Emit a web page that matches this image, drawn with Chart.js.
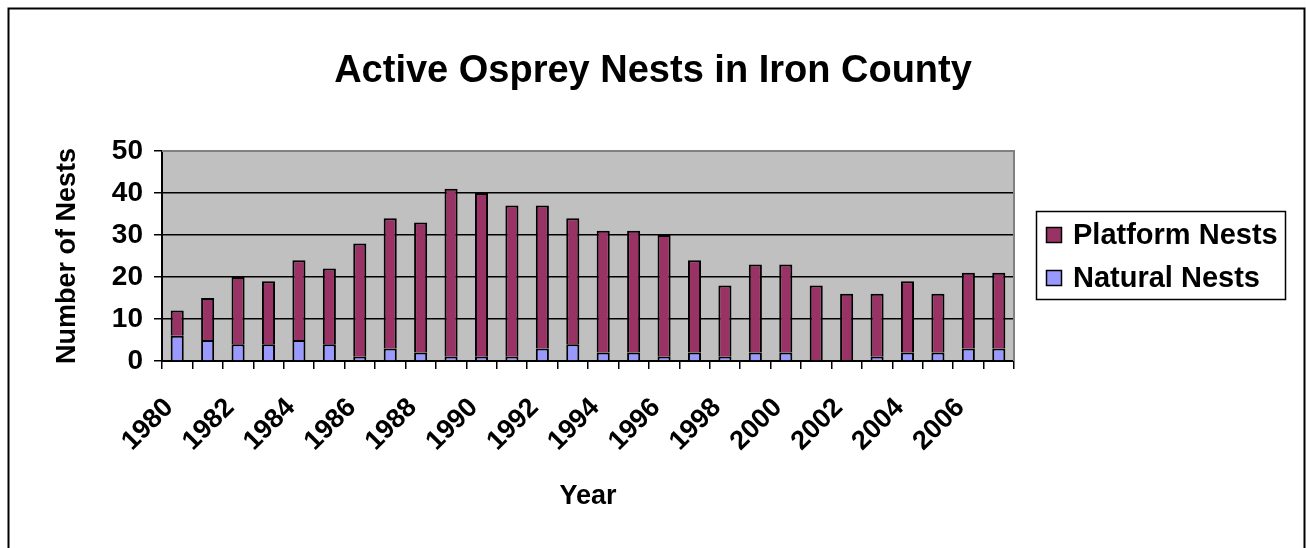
<!DOCTYPE html>
<html>
<head>
<meta charset="utf-8">
<title>Active Osprey Nests in Iron County</title>
<script src="https://cdn.jsdelivr.net/npm/chart.js@4.4.0/dist/chart.umd.min.js"></script>
<style>
  html, body { margin: 0; padding: 0; background: #fff; }
  #wrap { position: relative; width: 1306px; height: 548px; }
</style>
</head>
<body>
<div id="wrap"><canvas id="chart"></canvas></div>
<script>
// Data
const years = ['1980','1981','1982','1983','1984','1985','1986','1987','1988','1989',
               '1990','1991','1992','1993','1994','1995','1996','1997','1998','1999',
               '2000','2001','2002','2003','2004','2005','2006','2007'];
const naturalNests  = [6,5,4,4,5,4,1,3,2,1,1,1,3,4,2,2,1,2,1,2,2,0,0,1,2,2,3,3];
const platformNests = [6,10,16,15,19,18,27,31,31,40,39,36,34,30,29,29,29,22,17,21,21,18,16,15,17,14,18,18];
const xTickLabels = ['1980','1982','1984','1986','1988','1990','1992','1994','1996','1998','2000','2002','2004','2006'];
const yTicks = [0,10,20,30,40,50];

const FONT = '"Liberation Sans", Arial, Helvetica, sans-serif';
Chart.defaults.font.family = FONT;
Chart.defaults.color = '#000';

// grey plot area, its grey top/right edge and the outer frame
const plotFrame = {
  id: 'plotFrame',
  beforeDraw(chart) {
    const {ctx, chartArea: a} = chart;
    ctx.save();
    ctx.fillStyle = '#c0c0c0';
    ctx.fillRect(a.left, a.top, a.right - a.left, a.bottom - a.top);
    ctx.restore();
  },
  beforeDatasetsDraw(chart) {
    const {ctx, chartArea: a} = chart;
    ctx.save();
    ctx.strokeStyle = '#808080';
    ctx.lineWidth = 2;
    ctx.beginPath();
    ctx.moveTo(a.left, a.top);
    ctx.lineTo(a.right, a.top);
    ctx.lineTo(a.right, a.bottom);
    ctx.stroke();
    ctx.restore();
  },
  afterDraw(chart) {
    const ctx = chart.ctx;
    ctx.save();
    ctx.strokeStyle = '#000';
    ctx.lineWidth = 2;
    ctx.strokeRect(8.5, 8.5, chart.width - 10, chart.height + 10);
    ctx.restore();
  }
};

// boxed legend to the right of the plot, platform first
const boxLegend = {
  id: 'boxLegend',
  afterDraw(chart) {
    const {ctx, chartArea: a} = chart;
    const items = chart.data.datasets.slice().reverse();
    const left = a.right + 22, top = 211;
    ctx.save();
    ctx.strokeStyle = '#000';
    ctx.lineWidth = 1.5;
    ctx.strokeRect(left + 0.5, top + 0.5, 249, 88);
    ctx.font = 'bold 29px ' + FONT;
    ctx.textBaseline = 'middle';
    ctx.textAlign = 'left';
    items.forEach((ds, i) => {
      const y = top + 16 + i * 43;
      ctx.fillStyle = ds.backgroundColor;
      ctx.fillRect(left + 10, y, 16, 16);
      ctx.strokeRect(left + 10.5, y + 0.5, 15, 15);
      ctx.fillStyle = '#000';
      ctx.fillText(ds.label, left + 37, y + 9);
    });
    ctx.restore();
  }
};

new Chart(document.getElementById('chart'), {
  type: 'bar',
  data: {
    labels: years,
    datasets: [
      { label: 'Natural Nests', data: naturalNests, backgroundColor: '#9999ff',
        borderColor: '#000', borderWidth: 2 },
      { label: 'Platform Nests', data: platformNests, backgroundColor: '#993366',
        borderColor: '#000', borderWidth: 2 }
    ]
  },
  options: {
    responsive: true,
    maintainAspectRatio: false,
    animation: false,
    layout: { padding: 0 },
    datasets: { bar: { categoryPercentage: 1, barPercentage: 0.43 } },
    plugins: {
      legend: { display: false },
      tooltip: { enabled: false },
      title: {
        display: true,
        text: 'Active Osprey Nests in Iron County',
        color: '#000',
        font: { size: 38, weight: 'bold' },
        padding: { top: 49, bottom: 56.4 }
      }
    },
    scales: {
      x: {
        stacked: true,
        afterFit(scale) { scale.height = 187; },
        grid: { display: true, offset: true, drawOnChartArea: false, tickLength: 8,
                color: '#000', tickColor: '#000', lineWidth: 1.5 },
        border: { display: true, color: '#000', width: 2 },
        ticks: {
          autoSkip: false, maxRotation: 45, minRotation: 45,
          padding: 23, labelOffset: -8,
          color: '#000', font: { size: 27, weight: 'bold' },
          callback(v, i) { return xTickLabels.includes(years[i]) ? years[i] : ''; }
        },
        title: { display: true, text: 'Year', color: '#000',
                 font: { size: 27, weight: 'bold' }, padding: { top: 0, bottom: 35 } }
      },
      y: {
        stacked: true,
        min: yTicks[0], max: yTicks[yTicks.length - 1],
        afterFit(scale) { scale.width = 162; },
        afterBuildTicks(scale) { scale.ticks = yTicks.map(v => ({ value: v })); },
        grid: {
          color: ctx => ctx.tick && ctx.tick.value === 50 ? 'rgba(0,0,0,0)' : '#000',
          tickColor: '#000', lineWidth: 1.5, tickLength: 8
        },
        border: { display: true, color: '#000', width: 2 },
        ticks: { padding: 11, color: '#000', font: { size: 28, weight: 'bold' } },
        title: { display: true, text: 'Number of Nests', color: '#000',
                 font: { size: 27, weight: 'bold' }, padding: { top: 51, bottom: 0 } }
      },
      // empty right-hand strip that holds the legend
      legendSpace: {
        position: 'right',
        display: true,
        afterFit(scale) { scale.width = 292; },
        grid: { display: false },
        border: { display: false },
        ticks: { display: false },
        title: { display: false }
      }
    }
  },
  plugins: [plotFrame, boxLegend]
});
</script>
</body>
</html>
